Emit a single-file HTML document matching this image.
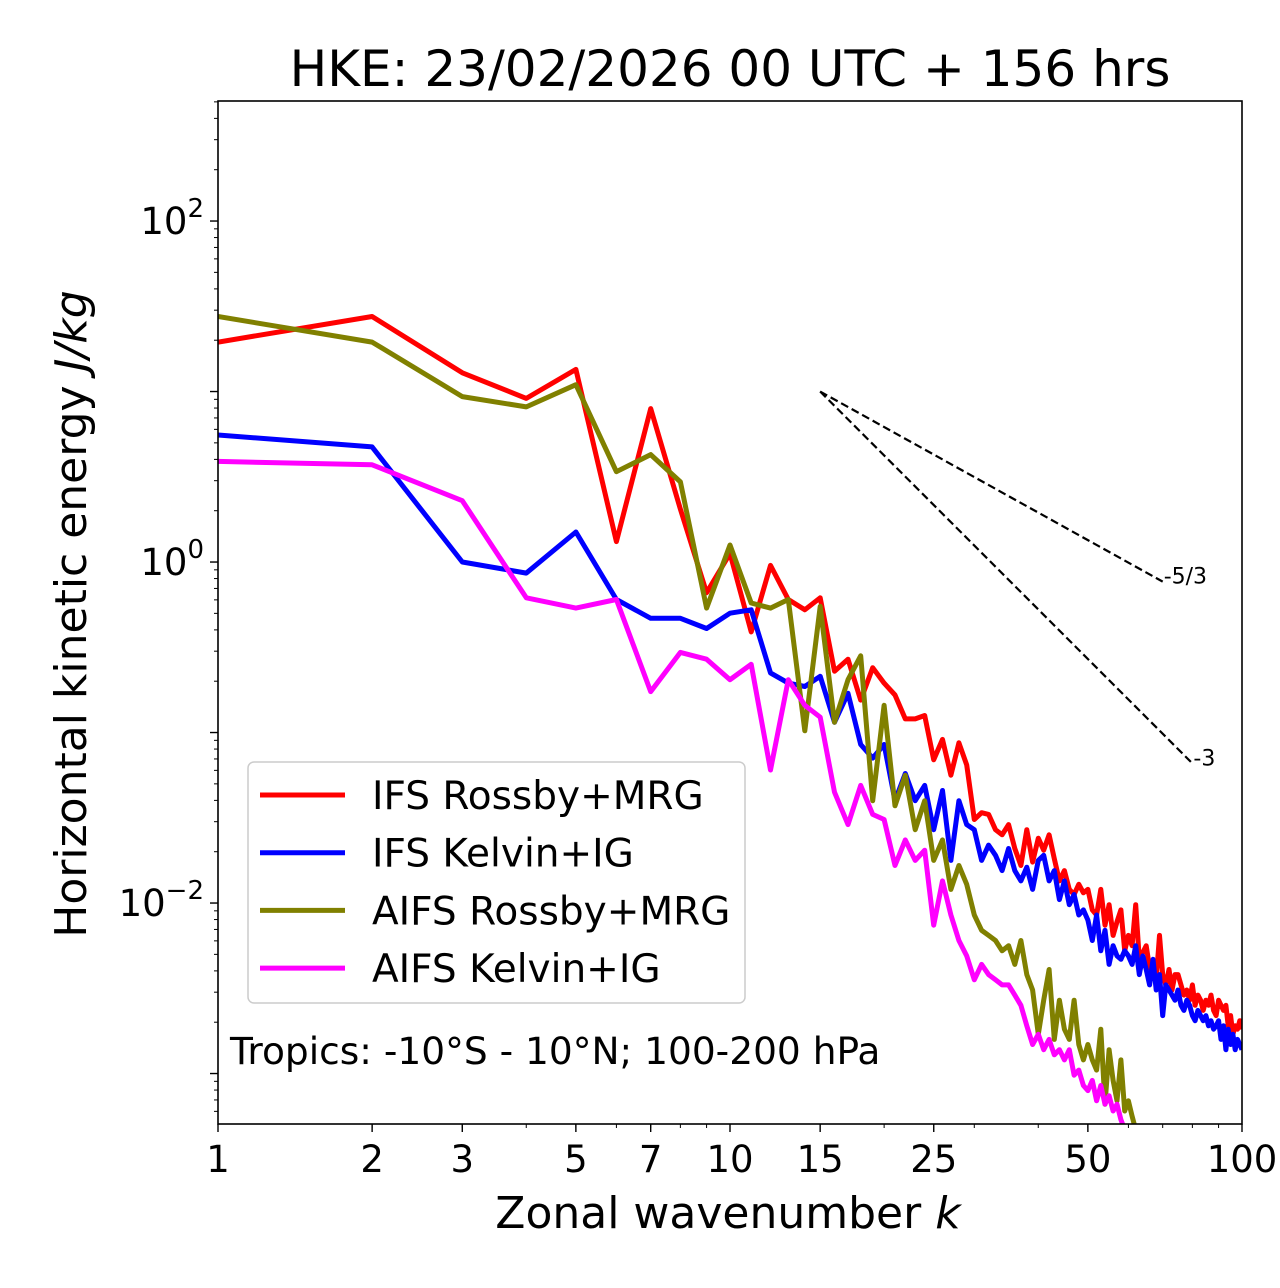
<!DOCTYPE html>
<html><head><meta charset="utf-8"><style>
body{margin:0;background:#fff;}
svg{display:block;font-family:"DejaVu Sans","Liberation Sans",sans-serif;}
</style></head><body>
<svg id="chart" width="1280" height="1288" xmlns="http://www.w3.org/2000/svg">
<defs><clipPath id="clip"><rect x="218" y="101" width="1024" height="1023"/></clipPath></defs>
<text x="730" y="86" font-size="50" text-anchor="middle">HKE: 23/02/2026 00 UTC + 156 hrs</text>
<g id="axes"></g>
<g id="series" clip-path="url(#clip)"></g>
<rect x="218" y="101" width="1024" height="1023" fill="none" stroke="#000" stroke-width="1.6"/>
<text x="728" y="1228" font-size="44" text-anchor="middle">Zonal wavenumber <tspan font-style="italic">k</tspan></text>
<text transform="translate(86,614) rotate(-90)" font-size="44" text-anchor="middle">Horizontal kinetic energy <tspan font-style="italic">J/kg</tspan></text>
<g>
<rect x="248" y="762" width="497" height="241" rx="6" fill="#fff" fill-opacity="0.8" stroke="#ccc" stroke-width="1.5"/>
</g>
<text x="230" y="1064" font-size="37.5">Tropics: -10°S - 10°N; 100-200 hPa</text>
</svg>
<script>
const xTicks=[1,2,3,5,7,10,15,25,50,100];
const yTickExps=[-2,0,2];
const slopes=[-5/3,-3];
const slopeLabels=["-5/3","-3"];
const slopeEnds=[70,80];
const slopeStartK=15, slopeStartE=10;
const seriesNames=["IFS Rossby+MRG","IFS Kelvin+IG","AIFS Rossby+MRG","AIFS Kelvin+IG"];
const seriesColors=["#ff0000","#0000ff","#808000","#ff00ff"];
const ifsRossbyLog=[1.29,1.44,1.11,0.96,1.13,0.12,0.90,0.31,-0.18,0.05,-0.41,-0.02,-0.22,-0.28,-0.21,-0.64,-0.57,-0.81,-0.62,-0.71,-0.78,-0.92,-0.92,-0.90,-1.16,-1.04,-1.25,-1.06,-1.19,
-1.51,-1.47,-1.48,-1.57,-1.60,-1.54,-1.68,-1.78,-1.57,-1.76,-1.62,-1.69,-1.60,-1.74,-1.87,-1.81,-1.92,-1.95,-1.89,-1.94,-1.92,-2.04,-2.07,-1.92,-2.13,-2.01,-2.19,-2.11,-2.04,-2.28,-2.19,-2.25,-2.01,-2.33,-2.29,-2.25,-2.38,-2.36,-2.45,-2.19,-2.42,-2.48,-2.39,-2.51,-2.42,-2.42,-2.48,-2.54,-2.51,-2.57,-2.48,-2.60,-2.54,-2.57,-2.63,-2.57,-2.60,-2.54,-2.63,-2.66,-2.57,-2.60,-2.63,-2.60,-2.72,-2.66,-2.77,-2.72,-2.74,-2.69,-2.74];
const ifsKelvinLog=[0.745,0.675,0,-0.065,0.176,-0.22,-0.33,-0.33,-0.39,-0.30,-0.28,-0.65,-0.71,-0.73,-0.67,-0.94,-0.77,-1.07,-1.15,-1.07,-1.40,-1.24,-1.40,-1.31,-1.57,-1.34,-1.75,-1.40,-1.54,
-1.57,-1.75,-1.66,-1.72,-1.81,-1.68,-1.81,-1.87,-1.79,-1.92,-1.75,-1.72,-1.87,-1.81,-1.98,-1.87,-2.01,-1.95,-2.07,-2.04,-2.10,-2.22,-2.07,-2.28,-2.16,-2.36,-2.25,-2.31,-2.33,-2.28,-2.31,-2.36,-2.25,-2.42,-2.31,-2.39,-2.48,-2.33,-2.51,-2.42,-2.66,-2.48,-2.51,-2.54,-2.57,-2.51,-2.60,-2.63,-2.57,-2.60,-2.66,-2.69,-2.63,-2.66,-2.69,-2.66,-2.72,-2.69,-2.74,-2.72,-2.69,-2.80,-2.72,-2.86,-2.74,-2.83,-2.77,-2.86,-2.80,-2.83,-2.86];
const aifsRossbyLog=[1.44,1.29,0.97,0.91,1.04,0.53,0.63,0.47,-0.27,0.10,-0.24,-0.27,-0.22,-0.99,-0.26,-0.94,-0.69,-0.55,-1.40,-0.84,-1.43,-1.25,-1.57,-1.40,-1.75,-1.63,-1.92,-1.78,-1.89,
-2.07,-2.16,-2.19,-2.22,-2.28,-2.25,-2.36,-2.22,-2.42,-2.51,-2.77,-2.57,-2.39,-2.80,-2.57,-2.74,-2.80,-2.57,-2.83,-2.92,-2.83,-2.92,-2.98,-2.74,-3.18,-2.86,-3.04,-3.16,-2.92,-3.22,-3.16,-3.25,-3.33];
const aifsKelvinLog=[0.59,0.57,0.36,-0.21,-0.27,-0.22,-0.76,-0.53,-0.57,-0.69,-0.60,-1.22,-0.69,-0.84,-0.91,-1.35,-1.54,-1.31,-1.48,-1.51,-1.78,-1.63,-1.75,-1.69,-2.13,-1.87,-2.07,-2.22,-2.31,
-2.45,-2.36,-2.42,-2.45,-2.48,-2.48,-2.54,-2.60,-2.72,-2.83,-2.77,-2.86,-2.80,-2.89,-2.86,-2.92,-2.86,-3.01,-2.98,-3.07,-3.10,-3.04,-3.16,-3.07,-3.18,-3.13,-3.22,-3.18,-3.27,-3.33];
const allSeries=[ifsRossbyLog,ifsKelvinLog,aifsRossbyLog,aifsKelvinLog];

const X0=218,X1=1242,Y0=101,Y1=1124;
const xMinL=0,xMaxL=2,yMinL=-3.296,yMaxL=2.704;
function xs(k){return X0+(Math.log10(k)-xMinL)/(xMaxL-xMinL)*(X1-X0);}
function ysL(l){return Y1-(l-yMinL)/(yMaxL-yMinL)*(Y1-Y0);}
function ys(e){return ysL(Math.log10(e));}
const NS="http://www.w3.org/2000/svg";
function mk(tag,attrs,parent){const e=document.createElementNS(NS,tag);for(const a in attrs)e.setAttribute(a,attrs[a]);parent.appendChild(e);return e;}
const axes=document.getElementById('axes');
for(let d=0;d<2;d++)for(let m=2;m<10;m++){const x=xs(m*Math.pow(10,d));
 const t=mk('line',{x1:x,x2:x,y1:Y1,y2:Y1+4,stroke:'#000','stroke-width':1},axes);
 
 }
xTicks.forEach(k=>{const x=xs(k);
 const t=mk('line',{x1:x,x2:x,y1:Y1,y2:Y1+8,stroke:'#000','stroke-width':1.4},axes);
 
 
 const l=mk('text',{x:x,y:Y1+48,'font-size':37,'text-anchor':'middle'},axes);
 l.textContent=k;
 
 });
for(let d=-4;d<3;d++)for(let m=1;m<10;m++){const l10=d+Math.log10(m);if(l10<yMinL||l10>yMaxL)continue;const y=ysL(l10);
 const t=mk('line',{x1:X0,x2:X0-(m===1?8:4),y1:y,y2:y,stroke:'#000','stroke-width':m===1?1.4:1},axes);
 
 }
yTickExps.forEach(p=>{const y=ysL(p);
 const l=mk('text',{x:X0-14,y:y+13,'font-size':37,'text-anchor':'end'},axes);
 l.innerHTML='10<tspan dy="-17" font-size="26">'+(p<0?'\u2212'+(-p):p)+'</tspan>';
 
 });
const ser=document.getElementById('series');
slopes.forEach((s,i)=>{const k2=slopeEnds[i];const e2=slopeStartE*Math.pow(k2/slopeStartK,s);
 const ln=mk('line',{x1:xs(slopeStartK),y1:ys(slopeStartE),x2:xs(k2),y2:ys(e2),stroke:'#000','stroke-width':2.2,'stroke-dasharray':'8,4'},ser);
 
 
 const t=mk('text',{x:xs(k2)+1,y:ys(e2)+2,'font-size':22},document.getElementById('chart'));
 t.textContent=slopeLabels[i];
 
 });
allSeries.forEach((arr,i)=>{const pts=arr.map((v,j)=>xs(j+1).toFixed(1)+','+ysL(v).toFixed(1)).join(' ');
 const p=mk('polyline',{points:pts,fill:'none',stroke:seriesColors[i],'stroke-width':5,'stroke-linejoin':'round'},ser);
 
 });
const svg=document.getElementById('chart');
seriesNames.forEach((n,i)=>{const y=795+i*57.7;
 const l=mk('line',{x1:260,x2:345,y1:y,y2:y,stroke:seriesColors[i],'stroke-width':5},svg);
 
 
 const t=mk('text',{x:372,y:y+14,'font-size':39},svg);
 t.textContent=n;
 
 });
</script>
</body></html>
